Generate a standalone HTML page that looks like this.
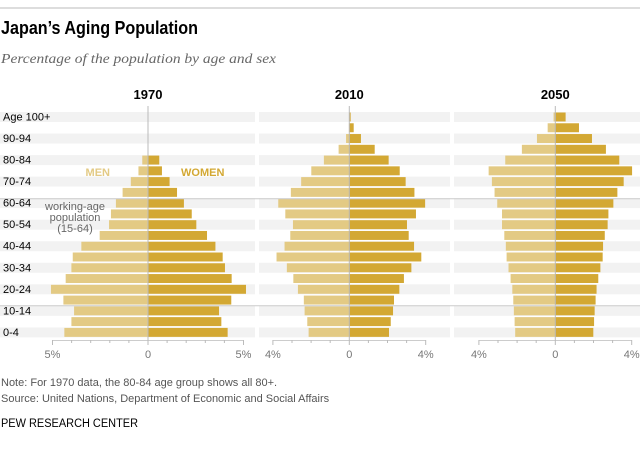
<!DOCTYPE html>
<html><head><meta charset="utf-8">
<style>
html,body{margin:0;padding:0;background:#fff;}
body{width:640px;height:447px;overflow:hidden;font-family:"Liberation Sans",sans-serif;}
</style></head>
<body>
<svg id="chart" width="640" height="447" xmlns="http://www.w3.org/2000/svg">
<line x1="0" y1="8" x2="640" y2="8" stroke="#bbb" stroke-width="1"/>
<text x="1" y="34" font-size="18" font-weight="bold" fill="#000" textLength="197" lengthAdjust="spacingAndGlyphs">Japan’s Aging Population</text>
<text x="1" y="63" font-size="14" font-style="italic" font-family="Liberation Serif, serif" fill="#666" textLength="275" lengthAdjust="spacingAndGlyphs">Percentage of the population by age and sex</text>
<g id="plots"></g>
<text x="1" y="386" font-size="11" fill="#555">Note: For 1970 data, the 80-84 age group shows all 80+.</text>
<text x="1" y="402" font-size="11" fill="#555">Source: United Nations, Department of Economic and Social Affairs</text>
<text x="1" y="427" font-size="11.5" fill="#000" textLength="137" lengthAdjust="spacingAndGlyphs">PEW RESEARCH CENTER</text>
</svg>
<script>
const ageLabels = ["Age 100+","","90-94","","80-84","","70-74","","60-64","","50-54","","40-44","","30-34","","20-24","","10-14","","0-4"];
const years = ["1970","2010","2050"];
const men1970 = [0,0,0,0,0.3,0.5,0.9,1.33,1.68,1.94,2.04,2.53,3.49,3.94,4.01,4.31,5.08,4.43,3.87,4.01,4.38];
const women1970 = [0,0,0,0,0.59,0.73,1.13,1.52,1.88,2.29,2.53,3.09,3.53,3.91,4.03,4.38,5.13,4.36,3.72,3.84,4.17];
const men2010 = [0,0.02,0.17,0.56,1.33,1.99,2.52,3.06,3.72,3.35,2.95,3.09,3.39,3.81,3.27,2.93,2.69,2.38,2.34,2.2,2.13];
const women2010 = [0.07,0.23,0.61,1.33,2.06,2.64,2.95,3.41,3.97,3.49,3.02,3.11,3.39,3.77,3.25,2.86,2.62,2.34,2.29,2.17,2.08];
const men2050 = [0.09,0.4,0.96,1.75,2.62,3.49,3.32,3.18,3.04,2.79,2.79,2.67,2.59,2.55,2.45,2.34,2.25,2.2,2.17,2.13,2.1];
const women2050 = [0.54,1.24,1.92,2.65,3.35,4.02,3.58,3.25,3.04,2.78,2.74,2.59,2.5,2.48,2.36,2.25,2.16,2.11,2.06,2.03,1.99];
const tickLabels1970 = ["5%","0","5%"];
const tickLabels2010 = ["4%","0","4%"];
const tickLabels2050 = ["4%","0","4%"];

const NS="http://www.w3.org/2000/svg";
const g=document.getElementById('plots');
function mk(t,a){const e=document.createElementNS(NS,t);for(const k in a)e.setAttribute(k,a[k]);return e;}
const pxPerPct=19.1, rowTop=112, pitch=10.77;
const yRow=i=>rowTop+i*pitch;
const panels=[
 {x0:0,x1:255,zero:148,max:5,men:men1970,women:women1970,ticks:tickLabels1970},
 {x0:259,x1:450,zero:349.3,max:4,men:men2010,women:women2010,ticks:tickLabels2010},
 {x0:454,x1:640,zero:555.3,max:4,men:men2050,women:women2050,ticks:tickLabels2050}
];
panels.forEach((p,pi)=>{
  const xs=v=>p.zero+v*pxPerPct;
  for(let i=0;i<ageLabels.length;i++){
    if(i%2===0){
      const b=mk('rect',{x:p.x0,y:yRow(i),width:p.x1-p.x0,height:pitch-0.8,fill:'#f2f2f2'});
      
      
      g.appendChild(b);
    }
  }
  for(let i=0;i<ageLabels.length;i++){
    const y=yRow(i)+0.5, h=pitch-1.8;
    if(p.men[i]>0){
      const r=mk('rect',{x:xs(-p.men[i]),y:y,width:xs(0)-xs(-p.men[i]),height:h,fill:'#e3ca84'});
      
      
      g.appendChild(r);
    }
    if(p.women[i]>0){
      const r=mk('rect',{x:xs(0),y:y,width:xs(p.women[i])-xs(0),height:h,fill:'#d3a833'});
      
      
      g.appendChild(r);
    }
  }
  const zl=mk('line',{x1:p.zero,y1:106,x2:p.zero,y2:341,stroke:'#bbb','stroke-width':1});
  
  
  g.appendChild(zl);
  const yt=mk('text',{x:p.zero,y:99,'font-size':13,'font-weight':'bold','text-anchor':'middle',fill:'#000'});
  yt.textContent=years[pi];
  
  
  g.appendChild(yt);
  const ax=mk('line',{x1:xs(-p.max),y1:340.5,x2:xs(p.max),y2:340.5,stroke:'#ccc','stroke-width':1});
  
  
  g.appendChild(ax);
  for(let v=-p.max;v<=p.max;v++){
    const t=mk('line',{x1:xs(v),y1:340,x2:xs(v),y2:(v%p.max===0)?345:343,stroke:'#bbb','stroke-width':1});
    
    
    g.appendChild(t);
  }
  [-p.max,0,p.max].forEach((v,k)=>{
    const tl=mk('text',{x:xs(v),y:358,'font-size':11,'text-anchor':'middle',fill:'#777'});
    tl.textContent=p.ticks[k];
    
    
    g.appendChild(tl);
  });
});
[198.7,305.7].forEach(y=>{
  const l=mk('line',{x1:0,y1:y,x2:640,y2:y,stroke:'#ccc','stroke-width':1});
  
  
  g.appendChild(l);
});
ageLabels.forEach((a,i)=>{
  if(!a)return;
  const t=mk('text',{x:3,y:yRow(i)+8.5,'font-size':11,fill:'#000'});
  t.textContent=a;
  
  
  g.appendChild(t);
});
const men=mk('text',{x:110,y:176,'font-size':11,'font-weight':'bold','text-anchor':'end',fill:'#e3ca84'});
men.textContent='MEN';


g.appendChild(men);
const wom=mk('text',{x:181,y:176,'font-size':11,'font-weight':'bold',fill:'#d3a833'});
wom.textContent='WOMEN';


g.appendChild(wom);
['working-age','population','(15-64)'].forEach((s,k)=>{
  const t=mk('text',{x:75,y:210+k*11,'font-size':11,'text-anchor':'middle',fill:'#666'});
  t.textContent=s;
  
  
  g.appendChild(t);
});
</script>
</body></html>
